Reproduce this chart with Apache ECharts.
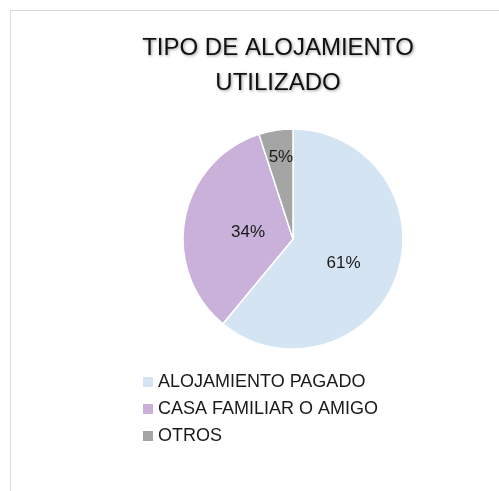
<!DOCTYPE html>
<html lang="es">

	<head>
		<meta charset="UTF-8">
		<title>Tipo de alojamiento utilizado</title>
		<script src="https://cdn.jsdelivr.net/npm/echarts@6/dist/echarts.min.js" type="text/javascript" charset="utf-8"></script>
		<style>
			html, body { margin: 0; padding: 0; background: #fff; }
			#frame { position: absolute; left: 10px; top: 10px; width: 600px; height: 600px; border-left: 1px solid #d9d9d9; border-top: 1px solid #d9d9d9; }
			#pie { position: absolute; left: 0; top: 0; width: 499px; height: 491px; }
		</style>
	</head>

	<body>
		<div id="frame"></div>
		<div id="pie"></div>
	</body>
	<script type="text/javascript">
		// datos
		var categorias = ['ALOJAMIENTO PAGADO', 'CASA FAMILIAR O AMIGO', 'OTROS']
		var valores = [61, 34, 5]
		var colores = ['#d4e4f3', '#c9b1da', '#a5a5a5']
		// desplazamiento de la etiqueta de cada sector (como la coloca Excel)
		var desplazamiento = [[-4, 5], [12, 4], [-3, -24]]

		var datos = []
		for(var i = 0; i < categorias.length; i++) {
			datos.push({
				name: categorias[i],
				value: valores[i],
				itemStyle: { color: colores[i] }
			})
		}

		var myChart = echarts.init(document.getElementById('pie'), null, { renderer: 'canvas' });

		var option = {
			backgroundColor: 'transparent',
			animation: false,
			title: {
				text: 'TIPO DE ALOJAMIENTO\nUTILIZADO',
				left: 278,
				top: 31,
				padding: 0,
				textAlign: 'center',
				textStyle: {
					fontFamily: 'Liberation Sans',
					fontSize: 24,
					fontWeight: 'normal',
					color: '#111',
					lineHeight: 35,
					textShadowColor: 'rgba(0,0,0,0.4)',
					textShadowBlur: 3,
					textShadowOffsetX: 1,
					textShadowOffsetY: 1
				}
			},
			legend: {
				orient: 'vertical',
				left: 143,
				top: 373,
				padding: 0,
				itemGap: 9,
				itemWidth: 10,
				itemHeight: 10,
				icon: 'rect',
				itemStyle: { borderWidth: 0 },
				data: categorias,
				textStyle: {
					fontFamily: 'Liberation Sans',
					fontSize: 18,
					lineHeight: 18,
					color: '#1a1a1a'
				}
			},
			series: [{
				type: 'pie',
				center: [293, 239],
				radius: 110,
				startAngle: 90,
				clockwise: true,
				avoidLabelOverlap: false,
				itemStyle: {
					borderColor: '#fff',
					borderWidth: 1.5
				},
				label: {
					show: true,
					position: 'inside',
					formatter: '{c}%',
					fontFamily: 'Liberation Sans',
					fontSize: 17,
					color: '#1a1a1a'
				},
				labelLayout: function(params) {
					var d = desplazamiento[params.dataIndex]
					return { dx: d[0], dy: d[1] }
				},
				labelLine: { show: false },
				emphasis: { disabled: true },
				data: datos
			}]
		};

		myChart.setOption(option);
	</script>

</html>
